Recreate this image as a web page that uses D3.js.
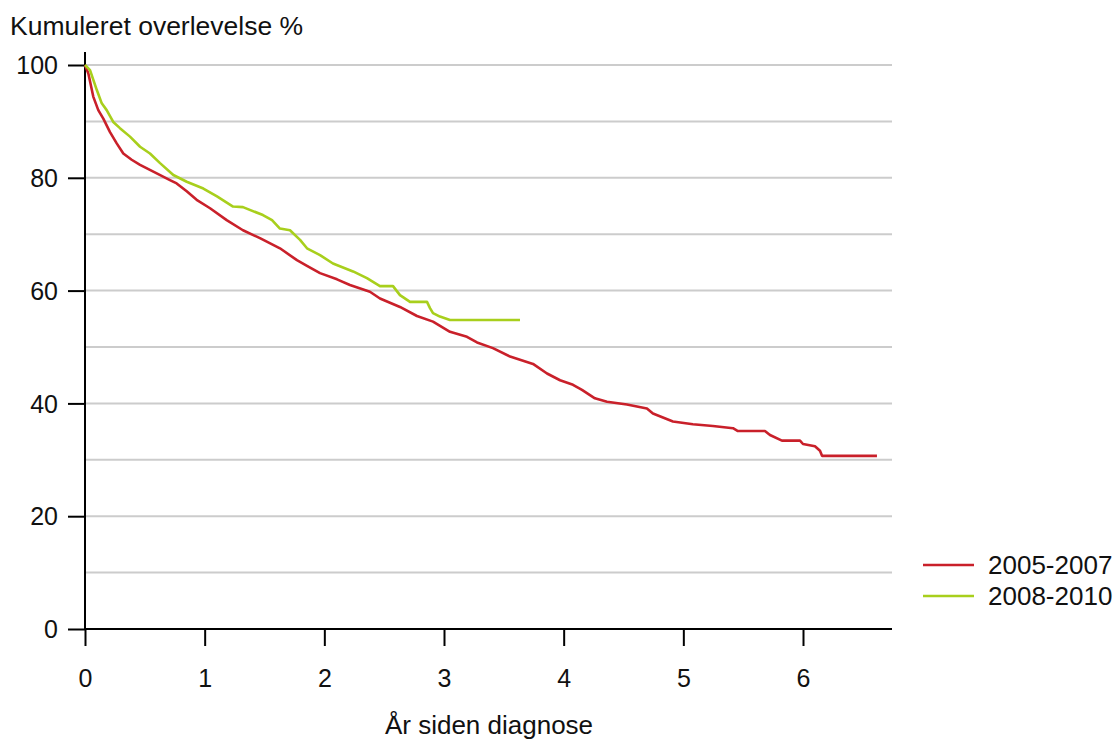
<!DOCTYPE html>
<html>
<head>
<meta charset="utf-8">
<script src="https://cdn.jsdelivr.net/npm/d3@7"></script>
<style>
  body { margin: 0; background: #fff; }
  svg text { font-family: Arial, "Liberation Sans", sans-serif; fill: #111; }
</style>
</head>
<body>
<div id="chart"></div>
<script>
// Kaplan-Meier style survival curves
const seriesNames = ["2005-2007", "2008-2010"];
const seriesColors = ["#c9202a", "#a8cf1c"];

// 2005-2007: years since diagnosis / cumulative survival %
const redYears = [0, 0.028, 0.069, 0.111, 0.153, 0.209, 0.265, 0.32, 0.39, 0.46, 0.571, 0.71, 0.766, 0.85, 0.933,
  1.045, 1.184, 1.32, 1.462, 1.629, 1.771, 1.855, 1.964, 2.106, 2.214, 2.381, 2.465, 2.632, 2.774, 2.908,
  3.05, 3.192, 3.276, 3.409, 3.552, 3.744, 3.861, 3.97, 4.078, 4.153, 4.261, 4.362, 4.529, 4.696, 4.746,
  4.913, 5.08, 5.247, 5.415, 5.456, 5.682, 5.724, 5.824, 5.975, 6.0, 6.1, 6.142, 6.159, 6.618];
const redSurvival = [100, 98.5, 94.4, 92.0, 90.5, 88.1, 86.1, 84.3, 83.2, 82.3, 81.1, 79.6, 79.0, 77.6, 76.1,
  74.6, 72.5, 70.7, 69.3, 67.5, 65.4, 64.4, 63.1, 62.0, 61.0, 59.8, 58.6, 57.1, 55.5, 54.5,
  52.7, 51.8, 50.8, 49.8, 48.3, 47.0, 45.3, 44.1, 43.3, 42.4, 40.9, 40.3, 39.8, 39.1, 38.2,
  36.8, 36.3, 36.0, 35.6, 35.1, 35.1, 34.4, 33.4, 33.4, 32.8, 32.4, 31.6, 30.7, 30.7];

// 2008-2010
const greenYears = [0, 0.042, 0.098, 0.14, 0.181, 0.236, 0.292, 0.376, 0.46, 0.543, 0.627, 0.738, 0.85, 0.989,
  1.103, 1.237, 1.32, 1.487, 1.563, 1.629, 1.713, 1.797, 1.855, 1.964, 2.072, 2.24, 2.356, 2.465, 2.574,
  2.632, 2.716, 2.858, 2.883, 2.908, 2.966, 3.05, 3.635];
const greenSurvival = [100, 99.1, 95.6, 93.2, 92.0, 89.9, 88.8, 87.3, 85.5, 84.3, 82.6, 80.5, 79.3, 78.1,
  76.7, 74.9, 74.8, 73.4, 72.5, 71.0, 70.7, 69.0, 67.5, 66.3, 64.8, 63.4, 62.2, 60.8, 60.8,
  59.2, 58.0, 58.0, 56.9, 56.0, 55.4, 54.8, 54.8];

const xTicks = [0, 1, 2, 3, 4, 5, 6];
const yTicks = [0, 20, 40, 60, 80, 100];
const gridValues = [10, 20, 30, 40, 50, 60, 70, 80, 90, 100];

const width = 1117;
const height = 740;
const plotLeft = 85, plotRight = 892, plotTop = 52;

const svg = d3.select("#chart").append("svg")
  .attr("width", width)
  .attr("height", height);

const x = d3.scaleLinear().domain([0, 6]).range([plotLeft, 803]);
const y = d3.scaleLinear().domain([0, 100]).range([629, 65]);

// Grid lines
svg.append("g")
  .selectAll("line")
  .data(gridValues)
  .join("line")
  .attr("x1", plotLeft)
  .attr("x2", plotRight)
  .attr("y1", d => y(d))
  .attr("y2", d => y(d))
  .attr("stroke", "#cccccc")
  .attr("stroke-width", 2);

// Y axis
const yAxis = svg.append("g")
  .attr("transform", `translate(${plotLeft},0)`)
  .call(d3.axisLeft(y).tickValues(yTicks).tickSize(17).tickPadding(10).tickSizeOuter(0));
yAxis.select(".domain").remove();
yAxis.selectAll(".tick line").attr("stroke", "#000").attr("stroke-width", 2);
yAxis.selectAll(".tick text").style("font-size", "25px").attr("dy", "0.35em");

// X axis
const xAxis = svg.append("g")
  .attr("transform", `translate(0,${y(0)})`)
  .call(d3.axisBottom(x).tickValues(xTicks).tickFormat(d3.format("d"))
    .tickSize(17).tickPadding(23).tickSizeOuter(0));
xAxis.select(".domain").remove();
xAxis.selectAll(".tick line").attr("stroke", "#000").attr("stroke-width", 2);
xAxis.selectAll(".tick text").style("font-size", "25px");

// Axis lines
svg.append("line")
  .attr("x1", plotLeft).attr("x2", plotLeft)
  .attr("y1", plotTop).attr("y2", y(0))
  .attr("stroke", "#000").attr("stroke-width", 2);
svg.append("line")
  .attr("x1", plotLeft).attr("x2", plotRight)
  .attr("y1", y(0)).attr("y2", y(0))
  .attr("stroke", "#000").attr("stroke-width", 2);

// Curves
const line = d3.line()
  .x(d => x(d[0]))
  .y(d => y(d[1]));

const curves = [
  d3.zip(redYears, redSurvival),
  d3.zip(greenYears, greenSurvival)
];

// draw red first then green on top
svg.append("g")
  .selectAll("path")
  .data(curves)
  .join("path")
  .attr("d", d => line(d))
  .attr("fill", "none")
  .attr("stroke", (d, i) => seriesColors[i])
  .attr("stroke-width", 2.6)
  .attr("stroke-linejoin", "round");

// Titles
svg.append("text")
  .attr("x", 10)
  .attr("y", 35)
  .style("font-size", "26.5px")
  .text("Kumuleret overlevelse %");

svg.append("text")
  .attr("x", 489)
  .attr("y", 734)
  .attr("text-anchor", "middle")
  .style("font-size", "26px")
  .text("År siden diagnose");

// Legend
const legend = svg.append("g")
  .selectAll("g")
  .data(seriesNames)
  .join("g")
  .attr("transform", (d, i) => `translate(923,${565 + i * 31})`);

legend.append("line")
  .attr("x1", 0).attr("x2", 51)
  .attr("stroke", (d, i) => seriesColors[i])
  .attr("stroke-width", 2.6);

legend.append("text")
  .attr("x", 65)
  .attr("dy", "0.35em")
  .style("font-size", "26px")
  .text(d => d);
</script>
</body>
</html>
